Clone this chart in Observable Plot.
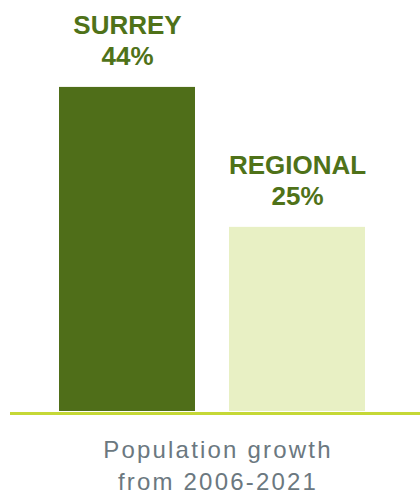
<!DOCTYPE html>
<html>
<head>
<meta charset="utf-8">
<script src="https://cdn.jsdelivr.net/npm/d3@7"></script>
<script src="https://cdn.jsdelivr.net/npm/@observablehq/plot@0.6"></script>
<style>
  html, body { margin: 0; padding: 0; background: #fff; }
  #chart svg { display: block; }
  .caption {
    width: 420px;
    font-family: "Liberation Sans", Arial, sans-serif;
    font-size: 24px;
    line-height: 32px;
    color: #6b7880;
    text-align: center;
    letter-spacing: 2.2px;
    margin-top: 14px;
    padding-left: 16px;
    box-sizing: border-box;
  }
</style>
</head>
<body>
<div id="chart"></div>
<div class="caption">Population growth<br>from 2006-2021</div>
<script>
const categories = ["SURREY", "REGIONAL"];
const values = [44, 25];
const valueLabels = ["44%", "25%"];
const barColors = ["#4f6e19", "#e8f0c4"];

const data = categories.map((c, i) => ({name: c, value: values[i], label: valueLabels[i], color: barColors[i]}));

const textColor = "#4f7219";

const chart = Plot.plot({
  width: 420,
  height: 420,
  marginTop: 0,
  marginBottom: 9,
  marginLeft: 25,
  marginRight: 21,
  style: {fontFamily: "'Liberation Sans', Arial, sans-serif", background: "#fff"},
  x: {domain: categories, padding: 0.2, axis: null},
  y: {domain: [0, 55.8], axis: null},
  marks: [
    Plot.barY(data, {x: "name", y: "value", fill: "color"}),
    Plot.ruleY([0], {stroke: "#c5d836", strokeWidth: 3, dy: 2, insetLeft: -15, insetRight: -21}),
    Plot.text(data, {x: "name", y: "value", text: "name", dy: -62, fill: textColor, fontSize: 26, fontWeight: "bold"}),
    Plot.text(data, {x: "name", y: "value", text: "label", dy: -30.3, fill: textColor, fontSize: 26, fontWeight: "bold"})
  ]
});
document.getElementById("chart").appendChild(chart);
</script>
</body>
</html>
